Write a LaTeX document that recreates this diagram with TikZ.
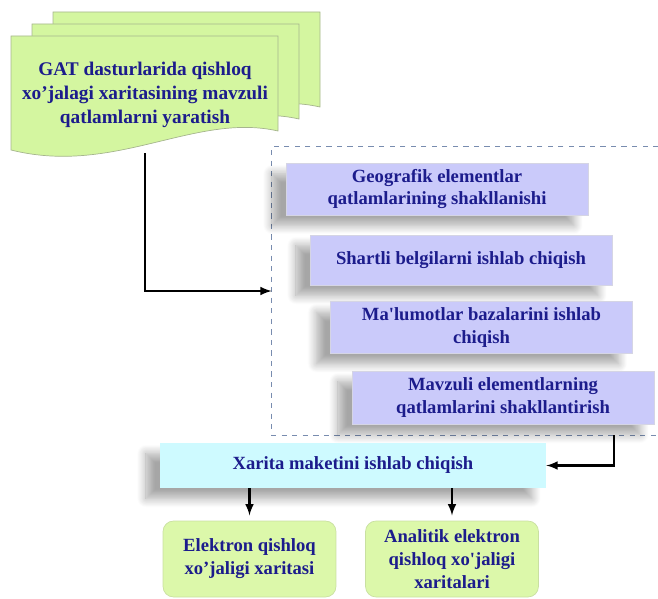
\documentclass[tikz,border=0pt]{standalone}
\usepackage{fontspec}
\setmainfont{Liberation Serif}
\usepackage{xcolor}
\usepackage{tikz}
\usetikzlibrary{arrows,shadows.blur}
\definecolor{navy}{RGB}{28,28,140}
\definecolor{docgreen}{RGB}{212,246,160}
\definecolor{lilac}{RGB}{202,202,250}
\definecolor{skycyan}{RGB}{206,250,255}
\definecolor{resgreen}{RGB}{220,248,170}
\definecolor{dashblue}{RGB}{120,140,175}

\begin{document}
\begin{tikzpicture}[x=0.02cm,y=-0.02cm,
    txt/.style={text=navy,font=\fontsize{10.6}{13}\selectfont\bfseries,align=center},
    soft/.style={blur shadow={shadow xshift=-8pt,shadow yshift=-6pt,shadow opacity=35,
      shadow blur radius=5pt,shadow blur steps=12}},
    stage/.style={txt,soft,draw=white!60!lilac!80!gray,fill=lilac,minimum width=6.04cm,minimum height=1cm},
    result/.style={txt,fill=resgreen,draw=resgreen!80!gray,rounded corners=6pt,minimum width=3.46cm,minimum height=1.52cm},
    link/.style={line width=1.2pt,-latex}]
    \useasboundingbox (0,0) rectangle (658,598);
    % stacked document pages
    \foreach \dx/\dy in {42/-24,21/-12,0/0}
      \filldraw[draw=docgreen!45!gray,fill=docgreen,shift={(\dx,\dy)}]
        (11,36) -- (278,36) -- (278,131) .. controls (195,112) and (115,176) .. (11,150) -- cycle;
    \node[txt,font=\fontsize{11}{13.5}\selectfont\bfseries] (doc) at (145,95) {GAT dasturlarida qishloq\\xo’jalagi xaritasining mavzuli\\qatlamlarni yaratish};
    \coordinate (docend) at (145,153);
    % dashed group
    \node[minimum width=7.72cm,minimum height=5.76cm] (group) at (465,291) {};
    \draw[dashblue,dashed] (group.north east) -- (group.north west) -- (group.south west) -- (group.south east);
    \node[stage] (geo) at (437,189) {Geografik elementlar\\qatlamlarining shakllanishi};
    \node[stage] (belgi) at (461,260) {Shartli belgilarni ishlab chiqish};
    \node[stage] (baza) at (481.5,327.5) {Ma\textquotesingle lumotlar bazalarini ishlab\\chiqish};
    \node[stage,minimum height=1.06cm] (mavzu) at (503,397.5) {Mavzuli elementlarning\\qatlamlarini shakllantirish};
    \node[txt,soft,fill=skycyan,minimum width=7.72cm,minimum height=0.9cm] (maket) at (353,465.5) {Xarita maketini ishlab chiqish};
    \node[result] (elektron) at (249.5,559) {Elektron qishloq\\xo’jaligi xaritasi};
    \node[result] (analitik) at (452,559) {Analitik elektron\\qishloq xo\textquotesingle jaligi\\xaritalari};
    % connectors
    \draw[link] (docend) |- (group.west);
    \draw[link] ([xshift=-0.88cm]group.south east) |- (maket.east);
    \draw[link] (elektron.north |- maket.south) -- ([yshift=3pt]elektron.north);
    \draw[link] (analitik.north |- maket.south) -- ([yshift=3pt]analitik.north);
\end{tikzpicture}
\end{document}
